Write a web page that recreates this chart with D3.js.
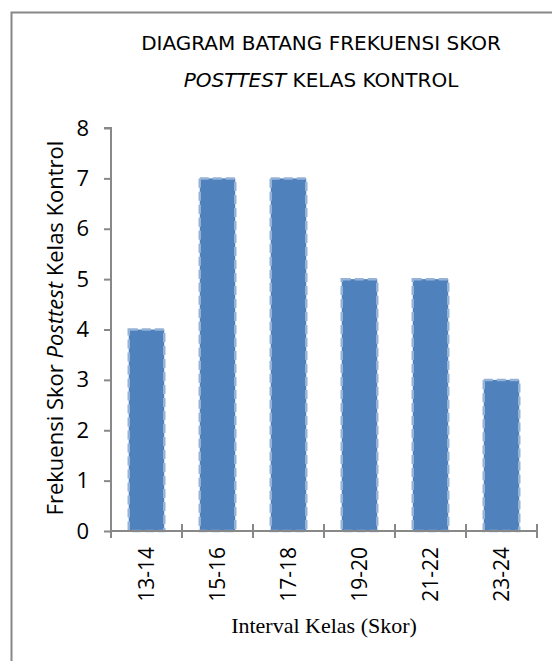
<!DOCTYPE html>
<html>
<head>
<meta charset="utf-8">
<script src="https://cdn.jsdelivr.net/npm/d3@7"></script>
<style>
  body { margin: 0; background: #fff; }
  text { fill: #000; }
</style>
</head>
<body>
<div id="chart"></div>
<script>
// data
var categories = ["13-14", "15-16", "17-18", "19-20", "21-22", "23-24"];
var values = [4, 7, 7, 5, 5, 3];
var yTicks = [0, 1, 2, 3, 4, 5, 6, 7, 8];

var width = 552, height = 661;
var plotL = 111, plotR = 537, plotT = 128, plotB = 531;

var svg = d3.select("#chart").append("svg").attr("width", width).attr("height", height);

// frame (only left and top visible)
svg.append("path").attr("d", "M11.5," + height + "V12.5H" + width)
    .attr("fill", "none").attr("stroke", "#888").attr("stroke-width", 2);

// title
var title = svg.append("g").attr("font-family", "DejaVu Sans, Verdana, sans-serif").attr("font-size", 20).attr("text-anchor", "middle");
title.append("text").attr("x", 321).attr("y", 50).text("DIAGRAM BATANG FREKUENSI SKOR");
var t2 = title.append("text").attr("x", 321).attr("y", 87);
t2.append("tspan").attr("font-style", "italic").text("POSTTEST");
t2.append("tspan").text(" KELAS  KONTROL");

var x = d3.scaleBand().domain(categories).range([plotL, plotR]).paddingInner(0).paddingOuter(0);
var y = d3.scaleLinear().domain([0, 8]).range([plotB, plotT]);

// bars
var bw = x.bandwidth() * 0.5;
svg.append("g").selectAll("rect").data(values).enter().append("rect")
    .attr("x", function (d, i) { return x(categories[i]) + (x.bandwidth() - bw) / 2; })
    .attr("y", function (d) { return y(d); })
    .attr("width", bw)
    .attr("height", function (d) { return y(0) - y(d); })
    .attr("fill", "#4F81BD")
    .attr("stroke", "#95B3D7")
    .attr("stroke-width", 2.5)
    .attr("stroke-dasharray", "9,4");

// y axis
var yAxis = svg.append("g").attr("transform", "translate(" + plotL + ",0)")
    .call(d3.axisLeft(y).tickValues(yTicks).tickSize(7).tickPadding(15).tickFormat(d3.format("d")));
yAxis.selectAll("path, line").attr("stroke", "#888").attr("stroke-width", 2);
yAxis.select(".domain").attr("d", "M-7," + plotT + "H0V" + plotB);
yAxis.selectAll("text").attr("font-family", "Open Sans, sans-serif").attr("font-size", 22).attr("fill", "#000");

// x axis: ticks at band edges
var edges = categories.map(function (c) { return x(c); }).concat([plotR]);
var xAxis = svg.append("g").attr("transform", "translate(0," + plotB + ")");
xAxis.append("line").attr("x1", plotL).attr("x2", plotR).attr("stroke", "#888").attr("stroke-width", 2);
xAxis.selectAll(".tk").data(edges).enter().append("line")
    .attr("x1", function (d) { return d; }).attr("x2", function (d) { return d; })
    .attr("y1", -7).attr("y2", 7).attr("stroke", "#888").attr("stroke-width", 2);
xAxis.selectAll(".lb").data(categories).enter().append("text")
    .attr("transform", function (d) { return "translate(" + (x(d) + x.bandwidth() / 2 + 7) + ",16)rotate(-90)"; })
    .attr("text-anchor", "end")
    .attr("font-family", "Open Sans, sans-serif").attr("font-size", 21)
    .text(function (d) { return d; });

// axis titles
svg.append("text").attr("x", 324).attr("y", 633).attr("text-anchor", "middle")
    .attr("font-family", "Liberation Serif, Times New Roman, serif").attr("font-size", 22)
    .text("Interval Kelas (Skor)");

var yt = svg.append("text").attr("transform", "translate(63,328)rotate(-90)").attr("text-anchor", "middle")
    .attr("font-family", "Open Sans, sans-serif").attr("font-size", 22);
yt.append("tspan").text("Frekuensi Skor ");
yt.append("tspan").attr("font-style", "italic").text("Posttest");
yt.append("tspan").text(" Kelas Kontrol");
</script>
</body>
</html>
